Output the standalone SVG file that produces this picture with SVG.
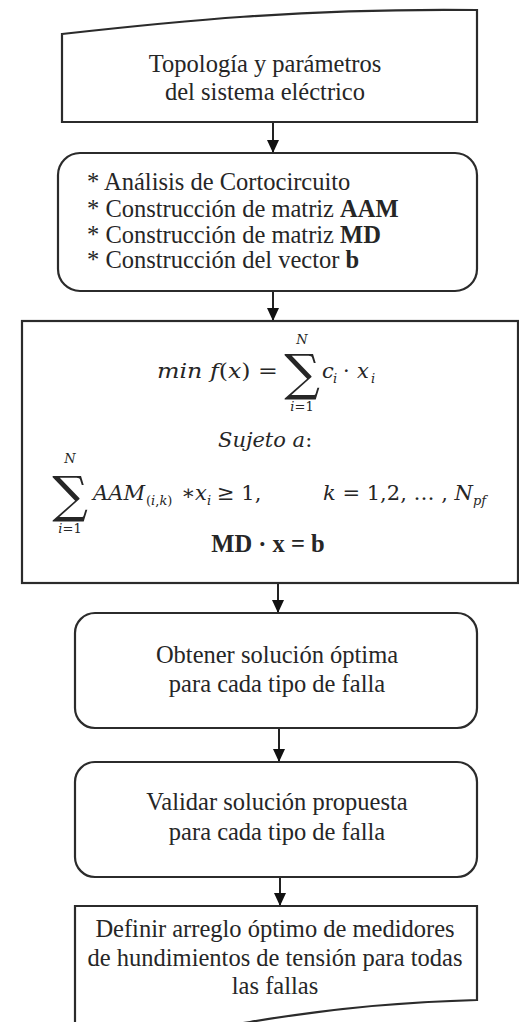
<svg xmlns="http://www.w3.org/2000/svg" width="519" height="1022" viewBox="0 0 519 1022">
<style>
.box{fill:#fff;stroke:#2b2b2b;stroke-width:2.2}
.t{font-family:"Liberation Serif","Times New Roman",serif;font-size:24.5px;fill:#262626}
.c{text-anchor:middle}
.m{font-family:"DejaVu Serif",serif;font-style:italic;font-size:21px;fill:#262626}
.u{font-style:normal}
.sm{font-family:"DejaVu Serif",serif;font-style:italic;font-size:13px;fill:#262626;text-anchor:middle}
.sb{font-family:"DejaVu Serif",serif;font-style:italic;font-size:13px;fill:#262626}
.sig{font-family:"DejaVu Serif",serif;font-size:50px;fill:#262626;text-anchor:middle}
.b{font-weight:bold}
.con{stroke:#222;stroke-width:2;fill:none}
</style>
<defs>
<marker id="ah" markerUnits="userSpaceOnUse" markerWidth="14" markerHeight="14" refX="13" refY="6" orient="auto">
<path d="M0,0 L13,6 L0,12 Z" fill="#111"/>
</marker>
</defs>

<g id="connectors">
<line class="con" x1="273" y1="122" x2="273" y2="153" marker-end="url(#ah)"/>
<line class="con" x1="273" y1="291" x2="273" y2="321" marker-end="url(#ah)"/>
<line class="con" x1="278" y1="583" x2="278" y2="613" marker-end="url(#ah)"/>
<line class="con" x1="279" y1="728" x2="279" y2="762" marker-end="url(#ah)"/>
<line class="con" x1="280" y1="877" x2="280" y2="906" marker-end="url(#ah)"/>
</g>

<g id="n1">
<path class="box" d="M62,34 C170,22 300,8 477,10 L477,122 L62,122 Z"/>
<text class="t c" x="265" y="72">Topología y parámetros</text>
<text class="t c" x="265" y="100">del sistema eléctrico</text>
</g>

<g id="n2">
<rect class="box" x="58" y="153" width="419" height="138" rx="22"/>
<text class="t" x="87" y="190">* Análisis de Cortocircuito</text>
<text class="t" x="87" y="217">* Construcción de matriz <tspan class="b">AAM</tspan></text>
<text class="t" x="87" y="243">* Construcción de matriz <tspan class="b">MD</tspan></text>
<text class="t" x="87" y="268">* Construcción del vector <tspan class="b">b</tspan></text>
</g>

<g id="n3">
<rect class="box" x="22" y="321" width="496" height="262"/>
<text class="m" x="157" y="378" font-size="22" textLength="121" lengthAdjust="spacingAndGlyphs">min f<tspan class="u">(</tspan>x<tspan class="u">) =</tspan></text>
<text class="sig" x="302" y="390">∑</text>
<text class="sm" x="302" y="344">N</text>
<text class="sm" x="302" y="411">i<tspan class="u">=1</tspan></text>
<text class="m" x="322" y="378">c</text>
<text class="sb" x="333" y="383">i</text>
<text class="m u" x="343" y="378">·</text>
<text class="m" x="357" y="378">x</text>
<text class="sb" x="371" y="383">i</text>

<text class="m" x="218" y="447">Sujeto a<tspan class="u">:</tspan></text>

<text class="sig" x="70" y="512">∑</text>
<text class="sm" x="70" y="463">N</text>
<text class="sm" x="70" y="533">i<tspan class="u">=1</tspan></text>
<text class="m" x="93" y="500" textLength="52" lengthAdjust="spacingAndGlyphs">AAM</text>
<text class="sb" x="146" y="505"><tspan class="u">(</tspan>i<tspan class="u">,</tspan>k<tspan class="u">)</tspan></text>
<text class="m u" x="181" y="500">∗</text>
<text class="m" x="195" y="500">x</text>
<text class="sb" x="207" y="505">i</text>
<text class="m u" x="217" y="500">≥ 1,</text>
<text class="m" x="323" y="500" textLength="150" lengthAdjust="spacingAndGlyphs">k <tspan class="u">= 1,2, … ,</tspan> N</text>
<text class="sb" x="473" y="505">pf</text>

<text class="t b c" x="268" y="552">MD · x = b</text>
</g>

<g id="n4">
<rect class="box" x="75" y="613" width="402" height="115" rx="20"/>
<text class="t c" x="277" y="663">Obtener solución óptima</text>
<text class="t c" x="277" y="692">para cada tipo de falla</text>
</g>

<g id="n5">
<rect class="box" x="75" y="762" width="402" height="115" rx="20"/>
<text class="t c" x="277" y="810">Validar solución propuesta</text>
<text class="t c" x="277" y="840">para cada tipo de falla</text>
</g>

<g id="n6">
<path class="box" d="M75,906 L477,906 L477,1000 C400,1002 320,1010 250,1022 C200,1030 120,1040 75,1040 Z"/>
<text class="t c" x="275" y="937">Definir arreglo óptimo de medidores</text>
<text class="t c" x="275" y="966">de hundimientos de tensión para todas</text>
<text class="t c" x="275" y="994">las fallas</text>
</g>
</svg>
